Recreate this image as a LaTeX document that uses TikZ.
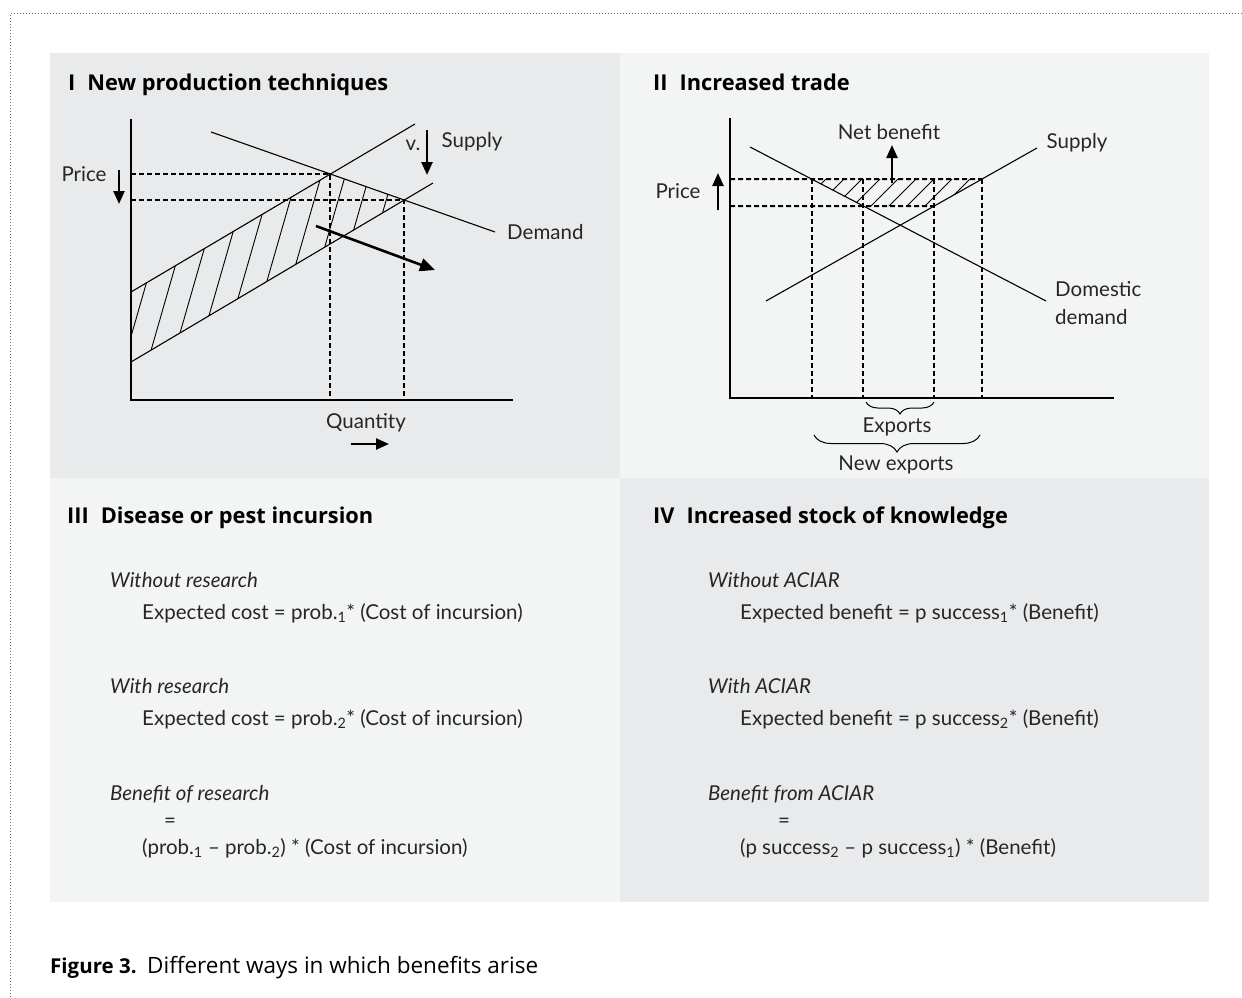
\documentclass[tikz,border=0pt]{standalone}
\usepackage{fontspec}
\setmainfont{Lato}
\newfontfamily\headfont{Open Sans}
\usetikzlibrary{arrows.meta,decorations.pathreplacing}
\definecolor{pdark}{RGB}{233,234,235}
\definecolor{plight}{RGB}{243,244,244}
\definecolor{framegray}{RGB}{110,110,110}
\tikzset{
  lbl/.style={font=\fontsize{20.5}{24}\selectfont, inner sep=0pt, text=black!85},
  txt/.style={lbl, anchor=base west},
  ittxt/.style={txt, font=\fontsize{20.5}{24}\selectfont\itshape},
  headtxt/.style={anchor=base west, inner sep=0pt, font=\headfont\bfseries\fontsize{21.8}{26}\selectfont},
  axis/.style={line width=1.3pt},
  curve/.style={line width=1.1pt},
  dashline/.style={line width=2pt, dash pattern=on 5pt off 3pt},
  hatch/.style={line width=0.9pt},
  bigarrow/.style={line width=2.6pt, -{Triangle[length=15pt,width=13pt]}},
  smallarrow/.style={line width=2.4pt, -{Triangle[length=13pt,width=11pt]}},
  bracedown/.style={decorate, decoration={brace, mirror, amplitude=#1}, line width=1pt},
}
\begin{document}
\begin{tikzpicture}[x=1pt,y=-1pt]
\useasboundingbox (0,0) rectangle (1242,998);
% frame
\coordinate (fr0) at (10,14);
\coordinate (fr1) at (1242,14);
\coordinate (fr2) at (10,998);
\draw[framegray, dotted, line width=1pt] (fr1) -- (fr0) -- (fr2);
% panels
\fill[pdark] (50,53) rectangle (620,478);
\fill[plight] (620,53) rectangle (1209,478);
\fill[plight] (50,478) rectangle (620,902);
\fill[pdark] (620,478) rectangle (1209,902);
% headings
\node[headtxt] (h1) at (68,90) {I\hspace{0.55em}New production techniques};
\node[headtxt] (h2) at (653,90) {II\hspace{0.55em}Increased trade};
\node[headtxt] (h3) at (67,523) {III\hspace{0.55em}Disease or pest incursion};
\node[headtxt] (h4) at (653,523) {IV\hspace{0.55em}Increased stock of knowledge};

% ---------- Panel I ----------
\coordinate (o1) at (131,400);
\coordinate (y1t) at (131,119);
\coordinate (x1e) at (513,400);
\coordinate (d1a) at (211,132); \coordinate (d1b) at (495,232);
\coordinate (s1a) at (131,292); \coordinate (s1b) at (415,124);
\coordinate (s2a) at (131,362); \coordinate (s2b) at (433,183);
\coordinate (e1) at (intersection of d1a--d1b and s1a--s1b);
\coordinate (e2) at (intersection of d1a--d1b and s2a--s2b);
\coordinate (e1y) at (o1 |- e1); \coordinate (e1x) at (e1 |- o1);
\coordinate (e2y) at (o1 |- e2); \coordinate (e2x) at (e2 |- o1);
\begin{scope}
\clip (s1a) -- (e1) -- (e2) -- (s2a) -- cycle;
\foreach \x in {107,131,...,300} \draw[hatch] (\x,420) -- ++(92,-320);
\foreach \x in {323,342,...,450} \draw[hatch] (\x,420) -- ++(92,-320);
\end{scope}
\draw[axis] (y1t) -- (o1) -- (x1e);
\draw[curve] (d1a) -- (d1b);
\draw[curve] (s1a) -- (s1b);
\draw[curve] (s2a) -- (s2b);
\draw[dashline] (e1y) -- (e1) -- (e1x);
\draw[dashline] (e2y) -- (e2) -- (e2x);
\node[lbl] (p1) at (84,174) {Price};
\coordinate (pa1) at (119,170); \coordinate (pa2) at (119,204);
\draw[smallarrow] (pa1) -- (pa2);
\node[lbl] (v1) at (413,145) {v.};
\node[lbl] (sup1) at (472,142) {Supply};
\coordinate (va1) at (427,130); \coordinate (va2) at (427,175);
\draw[smallarrow] (va1) -- (va2);
\node[lbl, anchor=west] (dem1) at (507,232) {Demand};
\node[lbl] (q1) at (366,423) {Quantity};
\coordinate (qa1) at (351,444); \coordinate (qa2) at (389,444);
\draw[smallarrow] (qa1) -- (qa2);
\coordinate (sa1) at (316,226); \coordinate (sa2) at (435,270);
\draw[bigarrow] (sa1) -- (sa2);

% ---------- Panel II ----------
\coordinate (o2) at (730,398);
\coordinate (y2t) at (730,118);
\coordinate (x2e) at (1114,398);
\coordinate (d2a) at (750,147); \coordinate (d2b) at (1046,301);
\coordinate (s3a) at (766,301); \coordinate (s3b) at (1037,148);
\coordinate (hiL) at (730,179); \coordinate (hiR) at (1200,179);
\coordinate (loL) at (730,206); \coordinate (loR) at (1200,206);
\coordinate (a1) at (intersection of d2a--d2b and hiL--hiR);
\coordinate (a2) at (intersection of d2a--d2b and loL--loR);
\coordinate (a3) at (intersection of s3a--s3b and loL--loR);
\coordinate (a4) at (intersection of s3a--s3b and hiL--hiR);
\coordinate (a2t) at (a2 |- hiL); \coordinate (a3t) at (a3 |- hiL);
\coordinate (a1b) at (a1 |- o2); \coordinate (a2b) at (a2 |- o2);
\coordinate (a3b) at (a3 |- o2); \coordinate (a4b) at (a4 |- o2);
\begin{scope}
\clip (a1) -- (a4) -- (a3) -- (a2) -- cycle;
\foreach \x in {790,808,...,1000} \draw[hatch] (\x,215) -- ++(45,-45);
\end{scope}
\draw[axis] (y2t) -- (o2) -- (x2e);
\draw[curve] (d2a) -- (d2b);
\draw[curve] (s3a) -- (s3b);
\draw[dashline] (hiL) -- (a4);
\draw[dashline] (loL) -- (a3);
\draw[dashline] (a1) -- (a1b);
\draw[dashline] (a2t) -- (a2b);
\draw[dashline] (a3t) -- (a3b);
\draw[dashline] (a4) -- (a4b);
\node[lbl] (nb) at (889,132) {Net benefit};
\coordinate (na1) at (892,183); \coordinate (na2) at (892,145);
\draw[smallarrow] (na1) -- (na2);
\node[lbl] (sup2) at (1077,143) {Supply};
\node[lbl] (p2) at (678,191) {Price};
\coordinate (pb1) at (718,210); \coordinate (pb2) at (718,173);
\draw[smallarrow] (pb1) -- (pb2);
\node[lbl, anchor=north west, align=left, font=\fontsize{20.5}{28}\selectfont] (dd) at (1055,281) {Domestic\\demand};
\coordinate (b1a) at (866,402); \coordinate (b1b) at (934,402);
\draw[bracedown=12pt] (b1a) -- (b1b);
\node[lbl] (exp) at (897,427) {Exports};
\coordinate (b2a) at (814,435); \coordinate (b2b) at (980,435);
\draw[bracedown=17pt] (b2a) -- (b2b);
\node[lbl] (nexp) at (896,465) {New exports};

% ---------- Panel III ----------
\node[ittxt] (t31) at (110,587) {Without research};
\node[txt] (t32) at (142,619) {Expected cost = prob.\textsubscript{1}* (Cost of incursion)};
\node[ittxt] (t33) at (110,693) {With research};
\node[txt] (t34) at (142,725) {Expected cost = prob.\textsubscript{2}* (Cost of incursion)};
\node[ittxt] (t35) at (110,800) {Benefit of research};
\node[txt] (t36) at (164,827) {=};
\node[txt] (t37) at (142,854) {(prob.\textsubscript{1} – prob.\textsubscript{2}) * (Cost of incursion)};

% ---------- Panel IV ----------
\node[ittxt] (t41) at (708,587) {Without ACIAR};
\node[txt] (t42) at (740,619) {Expected benefit = p success\textsubscript{1}* (Benefit)};
\node[ittxt] (t43) at (708,693) {With ACIAR};
\node[txt] (t44) at (740,725) {Expected benefit = p success\textsubscript{2}* (Benefit)};
\node[ittxt] (t45) at (708,800) {Benefit from ACIAR};
\node[txt] (t46) at (778,827) {=};
\node[txt] (t47) at (740,854) {(p success\textsubscript{2} – p success\textsubscript{1}) * (Benefit)};

% caption
\node[anchor=base west, inner sep=0pt, font=\headfont\bfseries\fontsize{20.5}{26}\selectfont] (capnum) at (50,973) {Figure 3.};
\node[anchor=base west, inner sep=0pt, font=\headfont\fontsize{22.5}{26}\selectfont] (cap) at (147,973) {Different ways in which benefits arise};
\end{tikzpicture}
\end{document}
